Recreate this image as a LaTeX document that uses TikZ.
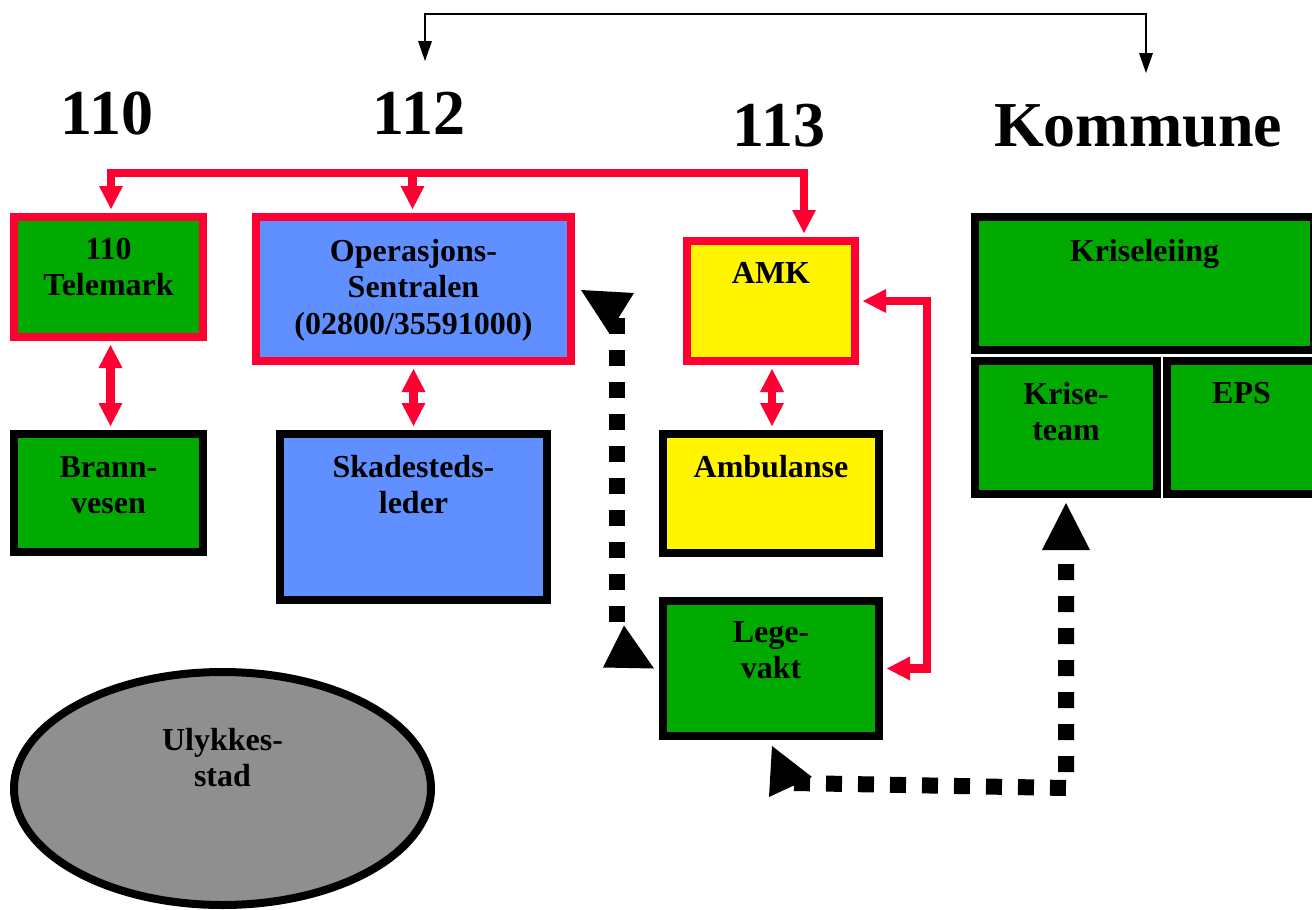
\documentclass[tikz,border=0pt]{standalone}
\usepackage{fontspec}
\setmainfont{Liberation Serif}
\usetikzlibrary{arrows.meta,shapes.geometric,calc}
\definecolor{grn}{HTML}{00AA00}
\definecolor{blu}{HTML}{6090FF}
\definecolor{ylw}{HTML}{FFF500}
\definecolor{rd}{HTML}{FF0033}
\definecolor{gry}{HTML}{8F8F8F}
\tikzset{
  rtip/.tip={Triangle[length=23pt,width=24pt,line width=0pt]},
  btip/.tip={Triangle[length=20pt,width=14pt,line width=0pt]}
}
\begin{document}
\begin{tikzpicture}[x=1pt,y=-1pt,
  box/.style={draw, line width=8pt, inner sep=0pt, rectangle},
  redbox/.style={box, draw=rd},
  blkbox/.style={box, draw=black},
  lbl/.style={anchor=north, inner sep=0pt, align=center, font=\fontsize{32}{36.5}\selectfont\bfseries},
  hdr/.style={anchor=base, inner sep=0pt, font=\fontsize{64}{70}\selectfont\bfseries},
  redln/.style={draw=rd, line width=8.5pt, line join=miter},
  dsh/.style={draw=black, line width=16pt, dash pattern=on 16pt off 16pt, line join=miter},
  topl/.style={draw=black, line width=2.5pt, btip-btip}
]
\useasboundingbox (0,0) rectangle (1312,910);
\clip (0,0) rectangle (1312,910);

% headers
\node[hdr] (h110) at (107,134) {110};
\node[hdr] (h112) at (419,134) {112};
\node[hdr] (h113) at (779,146) {113};
\node[hdr] (hkom) at (1138,146) {Kommune};

% boxes
\node[redbox, fill=grn, minimum width=189pt, minimum height=120pt] (tel) at (108.5,277) {};
\node[blkbox, fill=grn, minimum width=189pt, minimum height=118pt] (brann) at (108.5,493) {};
\node[redbox, fill=blu, minimum width=315pt, minimum height=144pt] (ops) at (413.5,289) {};
\node[blkbox, fill=blu, minimum width=267pt, minimum height=166pt] (skad) at (413.5,517) {};
\node[redbox, fill=ylw, minimum width=168pt, minimum height=120pt] (amk) at (771,301) {};
\node[blkbox, fill=ylw, minimum width=216pt, minimum height=119pt] (amb) at (771,493.5) {};
\node[blkbox, fill=grn, minimum width=216pt, minimum height=135pt] (lege) at (771,668.5) {};
\node[blkbox, fill=grn, minimum width=339pt, minimum height=133pt] (krl) at (1144.5,283.5) {};
\node[blkbox, fill=grn, minimum width=182pt, minimum height=133pt] (kt) at (1066,427.5) {};
\node[blkbox, fill=grn, minimum width=149pt, minimum height=133pt] (eps) at (1241.5,427.5) {};
\node[draw=black, line width=8pt, fill=gry, ellipse, inner sep=0pt, minimum width=417pt, minimum height=233pt] (ulyk) at (222.5,788.5) {};

% texts
\node[lbl] (telT) at ([yshift=-25pt]tel.north) {110\\Telemark};
\node[lbl] (brannT) at ([yshift=-26pt]brann.north) {Brann-\\vesen};
\node[lbl] (opsT) at ([yshift=-26pt]ops.north) {Operasjons-\\Sentralen\\(02800/35591000)};
\node[lbl] (skadT) at ([yshift=-25pt]skad.north) {Skadesteds-\\leder};
\node[lbl] (amkT) at ([yshift=-25pt]amk.north) {AMK};
\node[lbl] (ambT) at ([yshift=-25pt]amb.north) {Ambulanse};
\node[lbl] (legeT) at ([yshift=-24pt]lege.north) {Lege-\\vakt};
\node[lbl] (krlT) at ([yshift=-26pt]krl.north) {Kriseleiing};
\node[lbl] (ktT) at ([yshift=-25pt]kt.north) {Krise-\\team};
\node[lbl] (epsT) at ([yshift=-25pt]eps.north) {EPS};
\node[lbl] (ulykT) at ([yshift=-60pt]ulyk.north) {Ulykkes-\\stad};

% top black connector
\coordinate (tA) at (425,61);
\coordinate (tB) at (1146,73);
\coordinate (tTop) at (0,14);
\draw[topl] (tA) -- (tA |- tTop) -- (tB |- tTop) -- (tB);

% red tree
\coordinate (treeY) at (0,173);
\coordinate (telTop) at ($(tel.north)+(2.5,-4)$);
\coordinate (opsTop) at ($(ops.north)+(-1,-4)$);
\coordinate (amkTop) at ($(amk.north)+(33,-4)$);
\draw[redln, rtip-rtip] (telTop) -- (telTop |- treeY) -- (amkTop |- treeY) -- (amkTop);
\draw[redln, -rtip] (opsTop |- treeY) -- (opsTop);

% red double arrows
\draw[redln, rtip-rtip] ($(tel.south)+(2,4)$) -- ($(brann.north)+(2,-4)$);
\draw[redln, rtip-rtip] ($(ops.south)+(0,4)$) -- ($(skad.north)+(0,-4)$);
\draw[redln, rtip-rtip] ($(amk.south)+(1,4)$) -- ($(amb.north)+(1,-4)$);

% AMK <-> Legevakt
\coordinate (amkR) at ($(amk.east)+(4,0)$);
\coordinate (legeR) at ($(lege.east)+(4,0)$);
\coordinate (rX) at (927,0);
\draw[redln, rtip-rtip] (amkR) -- (rX |- amkR) -- (rX |- legeR) -- (legeR);

% dashed black connectors
\coordinate (opsTip) at ($(ops.east)+(6,1)$);
\coordinate (legeTip) at ($(lege.west)+(-5,0)$);
\coordinate (legeBTip) at ($(lege.south)+(1,6)$);
\coordinate (ktTip) at ($(kt.south)+(0,5)$);
\draw[dsh] ($(opsTip)+(36,28)$) -- ($(legeTip)+(-37,-34)$);
\draw[dsh] ($(legeBTip)+(22,37)$) -- ($(ktTip)+(0,285)$) -- ($(ktTip)+(0,44)$);
\fill[black] (opsTip) -- ++(53,3) -- ++(-25,40) -- cycle;
\fill[black] (legeTip) -- ++(-30,-43) -- ++(-21,42) -- cycle;
\fill[black] (legeBTip) -- ++(40,31) -- ++(-43,20) -- cycle;
\fill[black] (ktTip) -- ++(-24,47) -- ++(48,0) -- cycle;
\end{tikzpicture}
\end{document}
